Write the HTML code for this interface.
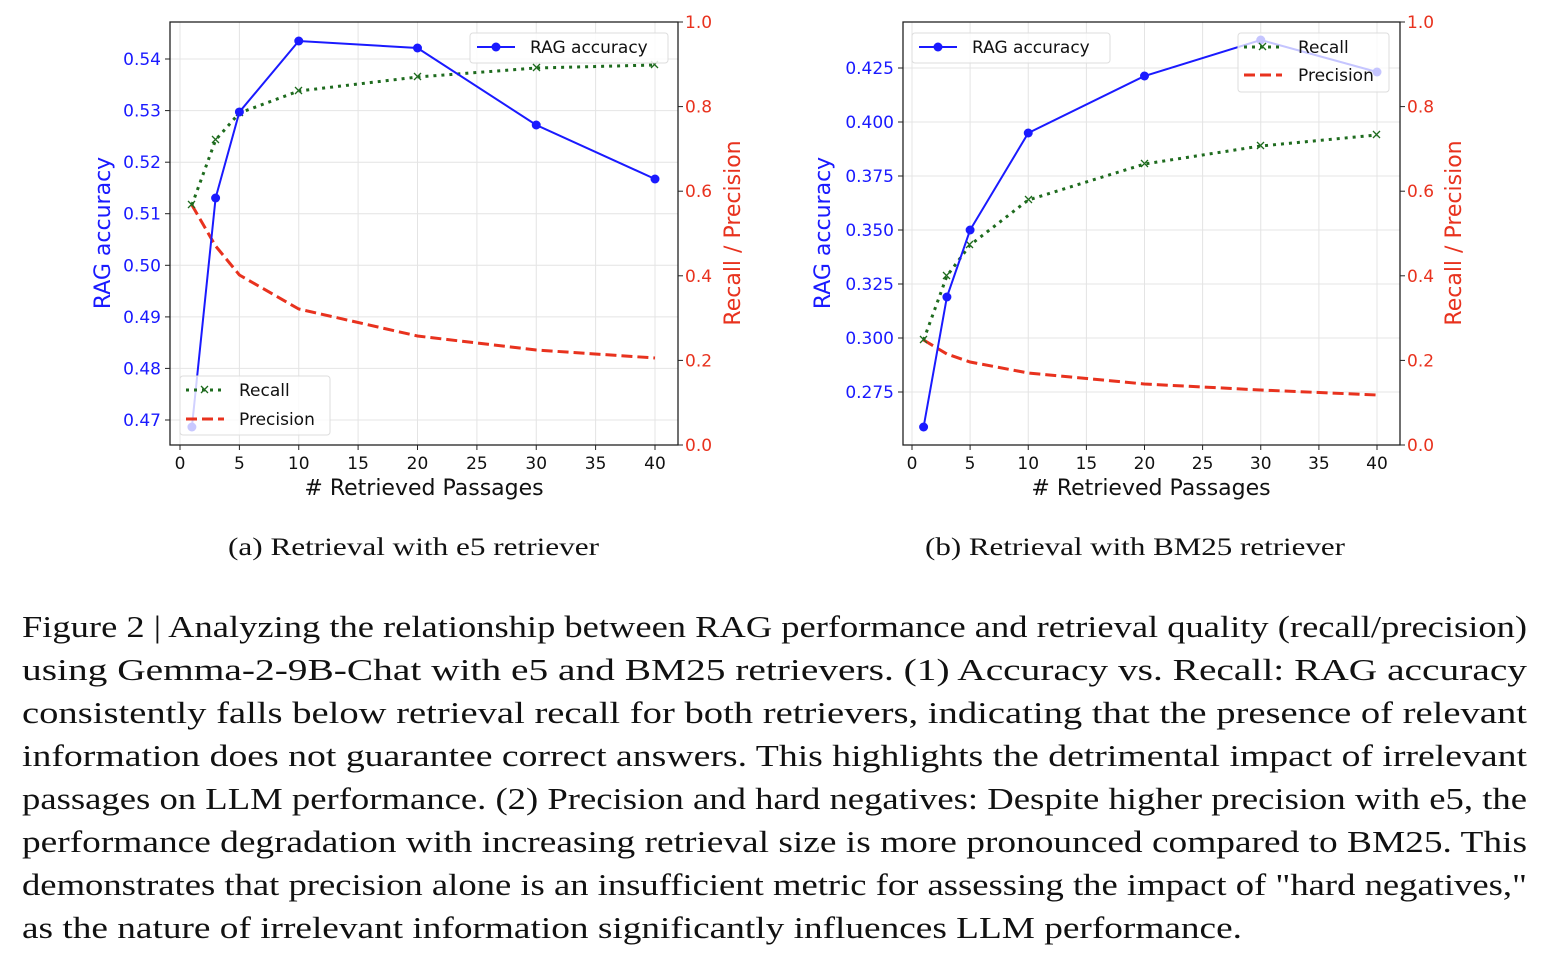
<!DOCTYPE html>
<html><head><meta charset="utf-8"><style>
body{margin:0;background:#fff;}
svg{display:block;}
.t{font-family:"DejaVu Sans",sans-serif;font-size:17px;}
.c{font-family:"Liberation Serif",serif;font-size:31px;fill:#111;}
</style></head><body>
<svg width="1546" height="956" viewBox="0 0 1546 956" xmlns="http://www.w3.org/2000/svg">
<!-- LEFT PLOT -->
<g stroke="#e4e4e4" stroke-width="1">
<line x1="180" y1="22" x2="180" y2="445"/><line x1="239.4" y1="22" x2="239.4" y2="445"/><line x1="298.75" y1="22" x2="298.75" y2="445"/><line x1="358.1" y1="22" x2="358.1" y2="445"/><line x1="417.5" y1="22" x2="417.5" y2="445"/><line x1="476.9" y1="22" x2="476.9" y2="445"/><line x1="536.25" y1="22" x2="536.25" y2="445"/><line x1="595.6" y1="22" x2="595.6" y2="445"/><line x1="655" y1="22" x2="655" y2="445"/>
<line x1="170" y1="420" x2="678" y2="420"/><line x1="170" y1="368.4" x2="678" y2="368.4"/><line x1="170" y1="316.9" x2="678" y2="316.9"/><line x1="170" y1="265.3" x2="678" y2="265.3"/><line x1="170" y1="213.7" x2="678" y2="213.7"/><line x1="170" y1="162.2" x2="678" y2="162.2"/><line x1="170" y1="110.6" x2="678" y2="110.6"/><line x1="170" y1="59" x2="678" y2="59"/>
</g>
<rect x="170" y="22" width="508" height="423" fill="none" stroke="#222" stroke-width="1.3"/>
<g stroke="#222"><line x1="180" y1="445" x2="180" y2="450"/><line x1="239.4" y1="445" x2="239.4" y2="450"/><line x1="298.75" y1="445" x2="298.75" y2="450"/><line x1="358.1" y1="445" x2="358.1" y2="450"/><line x1="417.5" y1="445" x2="417.5" y2="450"/><line x1="476.9" y1="445" x2="476.9" y2="450"/><line x1="536.25" y1="445" x2="536.25" y2="450"/><line x1="595.6" y1="445" x2="595.6" y2="450"/><line x1="655" y1="445" x2="655" y2="450"/>
<line x1="165" y1="420" x2="170" y2="420"/><line x1="165" y1="368.4" x2="170" y2="368.4"/><line x1="165" y1="316.9" x2="170" y2="316.9"/><line x1="165" y1="265.3" x2="170" y2="265.3"/><line x1="165" y1="213.7" x2="170" y2="213.7"/><line x1="165" y1="162.2" x2="170" y2="162.2"/><line x1="165" y1="110.6" x2="170" y2="110.6"/><line x1="165" y1="59" x2="170" y2="59"/>
<line x1="678" y1="445" x2="683" y2="445"/><line x1="678" y1="360.4" x2="683" y2="360.4"/><line x1="678" y1="275.8" x2="683" y2="275.8"/><line x1="678" y1="191.2" x2="683" y2="191.2"/><line x1="678" y1="106.6" x2="683" y2="106.6"/><line x1="678" y1="22" x2="683" y2="22"/></g>
<g class="t" text-anchor="middle" fill="#111"><text x="180" y="469">0</text><text x="239.4" y="469">5</text><text x="298.75" y="469">10</text><text x="358.1" y="469">15</text><text x="417.5" y="469">20</text><text x="476.9" y="469">25</text><text x="536.25" y="469">30</text><text x="595.6" y="469">35</text><text x="655" y="469">40</text></g>
<g class="t" text-anchor="end" fill="#1a1aff"><text x="161" y="426">0.47</text><text x="161" y="374.4">0.48</text><text x="161" y="322.9">0.49</text><text x="161" y="271.3">0.50</text><text x="161" y="219.7">0.51</text><text x="161" y="168.2">0.52</text><text x="161" y="116.6">0.53</text><text x="161" y="65">0.54</text></g>
<g class="t" fill="#e8321e"><text x="685" y="451">0.0</text><text x="685" y="366.4">0.2</text><text x="685" y="281.8">0.4</text><text x="685" y="197.2">0.6</text><text x="685" y="112.6">0.8</text><text x="685" y="28">1.0</text></g>
<text class="t" style="font-size:22px" x="424" y="495" text-anchor="middle" fill="#111"># Retrieved Passages</text>
<text class="t" style="font-size:22px" transform="translate(110,233) rotate(-90)" text-anchor="middle" fill="#1a1aff">RAG accuracy</text>
<text class="t" style="font-size:22px" transform="translate(740,233) rotate(-90)" text-anchor="middle" fill="#e8321e">Recall / Precision</text>
<polyline points="191.9,205 215.6,246 239.4,275 298.75,309 417.5,336 536.25,350 655,358" fill="none" stroke="#e8321e" stroke-width="3" stroke-dasharray="11,5"/>
<polyline points="191.9,205 215.6,140 239.4,113 298.75,91 417.5,77 536.25,68 655,65" fill="none" stroke="#1e6b1e" stroke-width="3" stroke-dasharray="3,5"/>
<g stroke="#1e6b1e" stroke-width="1.3"><path d="M188,201l7,7M195,201l-7,7M212,136l7,7M219,136l-7,7M236,109l7,7M243,109l-7,7M295,87l7,7M302,87l-7,7M414,73l7,7M421,73l-7,7M533,64l7,7M540,64l-7,7M651,61l7,7M658,61l-7,7"/></g>
<polyline points="191.9,427 215.6,198 239.4,112 298.75,41 417.5,48 536.25,125 655,179" fill="none" stroke="#1a1aff" stroke-width="2"/>
<g fill="#1a1aff"><circle cx="215.6" cy="198" r="4.5"/><circle cx="239.4" cy="112" r="4.5"/><circle cx="298.75" cy="41" r="4.5"/><circle cx="417.5" cy="48" r="4.5"/><circle cx="536.25" cy="125" r="4.5"/><circle cx="655" cy="179" r="4.5"/></g>
<rect x="470" y="33" width="198" height="30" rx="3" fill="#fff" fill-opacity="0.85" stroke="#ddd"/>
<line x1="477" y1="47" x2="515" y2="47" stroke="#1a1aff" stroke-width="2"/><circle cx="496" cy="47" r="4.5" fill="#1a1aff"/>
<text class="t" x="530" y="53" fill="#111">RAG accuracy</text>
<rect x="180" y="376" width="150" height="59" rx="3" fill="#fff" fill-opacity="0.8" stroke="#ddd"/>
<circle cx="191.9" cy="427" r="4.5" fill="#c8c8ff"/>
<line x1="186" y1="390" x2="224" y2="390" stroke="#1e6b1e" stroke-width="3" stroke-dasharray="3,5"/><path d="M201,386l7,7M208,386l-7,7" stroke="#1e6b1e" stroke-width="1.3"/>
<line x1="186" y1="419" x2="224" y2="419" stroke="#e8321e" stroke-width="3" stroke-dasharray="11,5"/>
<text class="t" x="239" y="396" fill="#111">Recall</text><text class="t" x="239" y="425" fill="#111">Precision</text>

<!-- RIGHT PLOT -->
<g stroke="#e4e4e4" stroke-width="1">
<line x1="912" y1="22" x2="912" y2="445"/><line x1="970.1" y1="22" x2="970.1" y2="445"/><line x1="1028.25" y1="22" x2="1028.25" y2="445"/><line x1="1086.4" y1="22" x2="1086.4" y2="445"/><line x1="1144.5" y1="22" x2="1144.5" y2="445"/><line x1="1202.6" y1="22" x2="1202.6" y2="445"/><line x1="1260.75" y1="22" x2="1260.75" y2="445"/><line x1="1318.9" y1="22" x2="1318.9" y2="445"/><line x1="1377" y1="22" x2="1377" y2="445"/>
<line x1="903" y1="392" x2="1400" y2="392"/><line x1="903" y1="338" x2="1400" y2="338"/><line x1="903" y1="284" x2="1400" y2="284"/><line x1="903" y1="230" x2="1400" y2="230"/><line x1="903" y1="176" x2="1400" y2="176"/><line x1="903" y1="122" x2="1400" y2="122"/><line x1="903" y1="68" x2="1400" y2="68"/>
</g>
<rect x="903" y="22" width="497" height="423" fill="none" stroke="#222" stroke-width="1.3"/>
<g stroke="#222"><line x1="912" y1="445" x2="912" y2="450"/><line x1="970.1" y1="445" x2="970.1" y2="450"/><line x1="1028.25" y1="445" x2="1028.25" y2="450"/><line x1="1086.4" y1="445" x2="1086.4" y2="450"/><line x1="1144.5" y1="445" x2="1144.5" y2="450"/><line x1="1202.6" y1="445" x2="1202.6" y2="450"/><line x1="1260.75" y1="445" x2="1260.75" y2="450"/><line x1="1318.9" y1="445" x2="1318.9" y2="450"/><line x1="1377" y1="445" x2="1377" y2="450"/>
<line x1="898" y1="392" x2="903" y2="392"/><line x1="898" y1="338" x2="903" y2="338"/><line x1="898" y1="284" x2="903" y2="284"/><line x1="898" y1="230" x2="903" y2="230"/><line x1="898" y1="176" x2="903" y2="176"/><line x1="898" y1="122" x2="903" y2="122"/><line x1="898" y1="68" x2="903" y2="68"/>
<line x1="1400" y1="445" x2="1405" y2="445"/><line x1="1400" y1="360.4" x2="1405" y2="360.4"/><line x1="1400" y1="275.8" x2="1405" y2="275.8"/><line x1="1400" y1="191.2" x2="1405" y2="191.2"/><line x1="1400" y1="106.6" x2="1405" y2="106.6"/><line x1="1400" y1="22" x2="1405" y2="22"/></g>
<g class="t" text-anchor="middle" fill="#111"><text x="912" y="469">0</text><text x="970.1" y="469">5</text><text x="1028.25" y="469">10</text><text x="1086.4" y="469">15</text><text x="1144.5" y="469">20</text><text x="1202.6" y="469">25</text><text x="1260.75" y="469">30</text><text x="1318.9" y="469">35</text><text x="1377" y="469">40</text></g>
<g class="t" text-anchor="end" fill="#1a1aff"><text x="894" y="398">0.275</text><text x="894" y="344">0.300</text><text x="894" y="290">0.325</text><text x="894" y="236">0.350</text><text x="894" y="182">0.375</text><text x="894" y="128">0.400</text><text x="894" y="74">0.425</text></g>
<g class="t" fill="#e8321e"><text x="1407" y="451">0.0</text><text x="1407" y="366.4">0.2</text><text x="1407" y="281.8">0.4</text><text x="1407" y="197.2">0.6</text><text x="1407" y="112.6">0.8</text><text x="1407" y="28">1.0</text></g>
<text class="t" style="font-size:22px" x="1151" y="495" text-anchor="middle" fill="#111"># Retrieved Passages</text>
<text class="t" style="font-size:22px" transform="translate(830,233) rotate(-90)" text-anchor="middle" fill="#1a1aff">RAG accuracy</text>
<text class="t" style="font-size:22px" transform="translate(1461,233) rotate(-90)" text-anchor="middle" fill="#e8321e">Recall / Precision</text>
<polyline points="923.6,340 946.9,354 970.1,362 1028.25,373 1144.5,384 1260.75,390 1377,395" fill="none" stroke="#e8321e" stroke-width="3" stroke-dasharray="11,5"/>
<polyline points="923.6,340 946.9,276 970.1,245 1028.25,200 1144.5,164 1260.75,146 1377,135" fill="none" stroke="#1e6b1e" stroke-width="3" stroke-dasharray="3,5"/>
<g stroke="#1e6b1e" stroke-width="1.3"><path d="M920,336l7,7M927,336l-7,7M943,272l7,7M950,272l-7,7M966,241l7,7M973,241l-7,7M1025,196l7,7M1032,196l-7,7M1141,160l7,7M1148,160l-7,7M1257,142l7,7M1264,142l-7,7M1373,131l7,7M1380,131l-7,7"/></g>
<polyline points="923.6,427 946.9,297 970.1,230 1028.25,133 1144.5,76 1260.75,40 1377,72" fill="none" stroke="#1a1aff" stroke-width="2"/>
<g fill="#1a1aff"><circle cx="923.6" cy="427" r="4.5"/><circle cx="946.9" cy="297" r="4.5"/><circle cx="970.1" cy="230" r="4.5"/><circle cx="1028.25" cy="133" r="4.5"/><circle cx="1144.5" cy="76" r="4.5"/><circle cx="1260.75" cy="40" r="4.5"/><circle cx="1377" cy="72" r="4.5"/></g>
<rect x="912" y="33" width="198" height="30" rx="3" fill="#fff" fill-opacity="0.8" stroke="#ddd"/>
<line x1="919" y1="47" x2="957" y2="47" stroke="#1a1aff" stroke-width="2"/><circle cx="938" cy="47" r="4.5" fill="#1a1aff"/>
<text class="t" x="972" y="53" fill="#111">RAG accuracy</text>
<rect x="1238" y="33" width="151" height="59" rx="3" fill="#fff" fill-opacity="0.75" stroke="#ddd"/>
<line x1="1244" y1="47" x2="1282" y2="47" stroke="#1e6b1e" stroke-width="3" stroke-dasharray="3,5"/><path d="M1259,43l7,7M1266,43l-7,7" stroke="#1e6b1e" stroke-width="1.3"/>
<line x1="1244" y1="75" x2="1282" y2="75" stroke="#e8321e" stroke-width="3" stroke-dasharray="11,5"/>
<text class="t" x="1298" y="53" fill="#111">Recall</text><text class="t" x="1298" y="81" fill="#111">Precision</text>

<!-- Sub captions -->
<text class="c" style="font-size:25px" x="228" y="555" textLength="371" lengthAdjust="spacingAndGlyphs">(a)  Retrieval with e5 retriever</text>
<text class="c" style="font-size:25px" x="925" y="555" textLength="420" lengthAdjust="spacingAndGlyphs">(b)  Retrieval with BM25 retriever</text>

<!-- Caption -->
<g class="c">
<text x="22" y="637" textLength="1505" lengthAdjust="spacingAndGlyphs">Figure 2 | Analyzing the relationship between RAG performance and retrieval quality (recall/precision)</text>
<text x="22" y="680" textLength="1505" lengthAdjust="spacingAndGlyphs">using  Gemma-2-9B-Chat  with  e5  and  BM25  retrievers.   (1)  Accuracy  vs.   Recall:  RAG  accuracy</text>
<text x="22" y="723" textLength="1505" lengthAdjust="spacingAndGlyphs">consistently falls below retrieval recall for both retrievers, indicating that the presence of relevant</text>
<text x="22" y="766" textLength="1505" lengthAdjust="spacingAndGlyphs">information does not guarantee correct answers. This highlights the detrimental impact of irrelevant</text>
<text x="22" y="809" textLength="1505" lengthAdjust="spacingAndGlyphs">passages on LLM performance. (2) Precision and hard negatives: Despite higher precision with e5, the</text>
<text x="22" y="852" textLength="1505" lengthAdjust="spacingAndGlyphs">performance degradation with increasing retrieval size is more pronounced compared to BM25. This</text>
<text x="22" y="895" textLength="1505" lengthAdjust="spacingAndGlyphs">demonstrates that precision alone is an insufficient metric for assessing the impact of "hard negatives,"</text>
<text x="22" y="938" textLength="1220" lengthAdjust="spacingAndGlyphs">as the nature of irrelevant information significantly influences LLM performance.</text>
</g>
</svg>
</body></html>
